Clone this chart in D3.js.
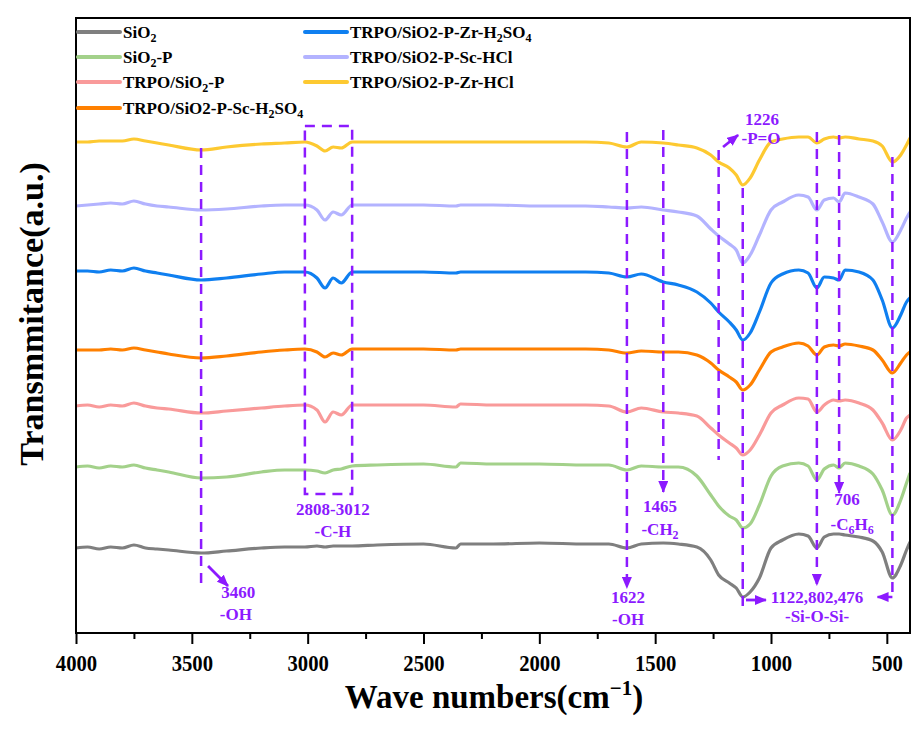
<!DOCTYPE html>
<html><head><meta charset="utf-8">
<script src="https://cdn.jsdelivr.net/npm/d3@7"></script>
<style>body{margin:0;background:#fff}svg{display:block}</style>
</head><body>
<svg id="c" width="912" height="731"></svg>
<script>
// ---- DATA (wavenumber in cm-1, transmittance in arbitrary units incl. stacking offset) ----
const wavenumbers = [4000,3950,3900,3850,3800,3750,3700,3650,3600,3460,3350,3200,3100,3012,2960,2925,2890,2855,2808,2700,2500,2360,2340,2200,2000,1800,1700,1622,1560,1465,1400,1320,1260,1226,1180,1150,1122,1090,1050,1000,950,880,840,802,770,730,706,680,620,560,520,476,440,415,400];
const sio2 = [85,86,84,86,85,88,85,84,83,80,82,85,86,86,87,86,87,87,87,88,89,85,89,89,90,89,89,85,89,90,89,86,73,58,50,45,36,41,55,85,93,99,97,85,96,99,99,98,96,92,81,55,68,83,91];
const sio2P = [166,167,165,167,166,168,165,163,161,155,156,161,163,163,162,160,163,164,167,168,169,166,170,169,169,168,168,163,167,166,166,157,138,127,117,113,105,109,128,157,167,170,167,153,164,168,165,170,167,159,143,118,133,150,160];
const trpoSio2P = [227,228,226,228,227,230,227,225,224,220,222,225,227,228,223,211,221,218,228,228,228,226,229,228,228,228,227,221,225,221,220,217,205,198,190,185,178,183,198,220,228,235,234,221,228,233,232,233,230,223,210,193,203,215,218];
const scH2so4 = [283,283,283,284,283,285,283,281,279,275,277,281,283,284,281,276,280,278,284,284,284,283,284,284,284,284,283,280,282,281,281,278,270,263,256,251,243,248,263,281,286,290,287,278,286,288,287,289,287,283,273,260,270,278,281];
const zrH2so4 = [362,362,361,363,362,365,362,360,358,353,355,359,361,361,355,345,355,350,361,361,361,360,361,361,361,361,360,356,359,351,348,341,330,321,311,303,293,300,321,350,359,363,360,345,356,355,353,363,361,353,333,305,318,331,335];
const scHcl = [427,428,429,430,429,432,429,427,426,423,424,427,428,428,423,413,421,418,428,428,428,427,428,428,427,427,426,425,426,423,421,417,404,397,389,383,370,378,398,423,431,438,436,423,433,435,431,440,436,429,411,391,403,415,421];
const zrHcl = [491,491,492,492,492,494,492,490,488,483,486,489,490,491,487,482,486,485,491,491,491,491,491,491,491,491,490,486,491,490,488,485,478,471,465,458,448,455,473,491,494,496,496,490,494,496,495,496,494,492,487,471,478,488,495];

const seriesLabels = ["SiO_2","SiO_2-P","TRPO/SiO_2-P","TRPO/SiO2-P-Sc-H_2SO_4","TRPO/SiO2-P-Zr-H_2SO_4","TRPO/SiO2-P-Sc-HCl","TRPO/SiO2-P-Zr-HCl"];
const seriesValues = [sio2, sio2P, trpoSio2P, scH2so4, zrH2so4, scHcl, zrHcl];
const seriesColors = ["#7f7f7f","#a3d18a","#f99a9a","#ff8000","#0f7ff0","#b3b3ff","#fdc931"];
const xTicks = [4000,3500,3000,2500,2000,1500,1000,500];
const xMinorTicks = [3750,3250,2750,2250,1750,1250,750];

// ---- CHART ----
const svg = d3.select("#c");
const FONT = "'Liberation Serif','Times New Roman',serif";
const VIO = "#8c1aff";
const L=76,R=910,T=18,B=633;
const x = d3.scaleLinear().domain([4000,400]).range([L,R]);
const y = d3.scaleLinear().domain([0,615]).range([B,T]);

const line = d3.line().x(d=>x(d[0])).y(d=>y(d[1])).curve(d3.curveMonotoneX);

svg.append("clipPath").attr("id","pc").append("rect").attr("x",L).attr("y",T).attr("width",R-L).attr("height",B-T);

const gS = svg.append("g").attr("clip-path","url(#pc)");
seriesValues.forEach((vals,i)=>{
  gS.append("path").datum(wavenumbers.map((w,j)=>[w,vals[j]]))
    .attr("d",line).attr("fill","none").attr("stroke",seriesColors[i])
    .attr("stroke-width",3.2).attr("stroke-linejoin","round");
});

// arrow marker
const defs = svg.append("defs");
defs.append("marker").attr("id","ah").attr("viewBox","0 0 12 10").attr("refX",11).attr("refY",5)
  .attr("markerWidth",12).attr("markerHeight",10).attr("markerUnits","userSpaceOnUse").attr("orient","auto")
  .append("path").attr("d","M0,0L12,5L0,10Z").attr("fill",VIO);

const gA = svg.append("g");
function dashV(w,a1,a2,arrow){
  const l = gA.append("line").attr("x1",x(w)).attr("x2",x(w)).attr("y1",y(a1)).attr("y2",y(a2))
    .attr("stroke",VIO).attr("stroke-width",2.5).attr("stroke-dasharray","10,7");
  if(arrow) l.attr("marker-end","url(#ah)");
}
function arrow(w1,a1,w2,a2){
  gA.append("line").attr("x1",x(w1)).attr("y1",y(a1)).attr("x2",x(w2)).attr("y2",y(a2))
    .attr("stroke",VIO).attr("stroke-width",2.8).attr("marker-end","url(#ah)");
}
dashV(3460,485,50,false);
dashV(1622,501,45,true);
dashV(1465,503,141,true);
dashV(1226,483,173,false);
dashV(1122,445,20,false);
dashV(802,501,48,true);
dashV(706,498,140,true);
dashV(476,476,36,false);
// C-H box
gA.append("rect").attr("x",x(3012)).attr("y",y(507)).attr("width",x(2808)-x(3012)).attr("height",y(139)-y(507))
  .attr("fill","none").attr("stroke",VIO).attr("stroke-width",2.5).attr("stroke-dasharray","10,7");
arrow(3430,67,3344,47);
arrow(1207,486,1142,498);
arrow(1108,33,1022,33);
gA.append("line").attr("x1",x(476)).attr("y1",y(36)).attr("x2",x(540)).attr("y2",y(36))
  .attr("stroke",VIO).attr("stroke-width",2.5).attr("marker-end","url(#ah)");

function richText(g, str, xx, yy, size, anchor, fill){
  const t = g.append("text").attr("x",xx).attr("y",yy).attr("font-family",FONT).attr("font-weight","bold")
    .attr("font-size",size).attr("fill",fill).attr("text-anchor",anchor);
  const parts = str.split(/(_\d)/).filter(s=>s.length);
  let pending = 0;
  const sh = Math.round(size*0.25);
  parts.forEach(p=>{
    if(p[0]==="_"){
      t.append("tspan").attr("font-size",Math.round(size*0.68)).attr("dy",sh+pending).text(p.slice(1));
      pending = -sh;
    } else {
      const ts = t.append("tspan").text(p);
      if(pending) ts.attr("dy",pending);
      pending = 0;
    }
  });
  return t;
}
const ann = [
  ["3460",3300,35],["-OH",3310,13],
  ["2808-3012",2891,118],["-C-H",2891,96],
  ["1622",1617,30],["-OH",1617,8],
  ["1465",1479,121],["-CH_2",1479,98],
  ["1226",1039,508],["-P=O",1043,489],
  ["706",672,128],["-C_6H_6",650,103],
  ["1122,802,476",801,30],["-Si-O-Si-",801,11]
];
ann.forEach(a=>richText(gA,a[0],x(a[1]),y(a[2]),17,"middle",VIO));

// frame
svg.append("rect").attr("x",L).attr("y",T).attr("width",R-L).attr("height",B-T)
  .attr("fill","none").attr("stroke","#000").attr("stroke-width",2);

// x axis
const ax = svg.append("g").attr("transform",`translate(0,${B})`)
  .call(d3.axisBottom(x).tickValues(xTicks).tickSize(11).tickFormat(d3.format("d")));
ax.select(".domain").remove();
ax.selectAll(".tick line").attr("stroke","#000").attr("stroke-width",2);
ax.selectAll(".tick text").attr("y",38).attr("dy",0).attr("font-family",FONT).attr("font-weight","bold")
  .attr("font-size",23).attr("fill","#000").attr("transform","scale(0.9,1)");
const axm = svg.append("g").attr("transform",`translate(0,${B})`)
  .call(d3.axisBottom(x).tickValues(xMinorTicks).tickSize(6).tickFormat(""));
axm.select(".domain").remove();
axm.selectAll(".tick line").attr("stroke","#000").attr("stroke-width",2);

// axis titles
const xt = svg.append("text").attr("x",(L+R)/2+1).attr("y",708).attr("text-anchor","middle")
  .attr("font-family",FONT).attr("font-weight","bold").attr("font-size",33).attr("fill","#000");
xt.append("tspan").text("Wave numbers(cm");
xt.append("tspan").attr("font-size",21).attr("dy",-13).text("\u22121");
xt.append("tspan").attr("dy",13).text(")");

svg.append("text").attr("transform","translate(43,314) rotate(-90)").attr("text-anchor","middle")
  .attr("font-family",FONT).attr("font-weight","bold").attr("font-size",34).attr("fill","#000")
  .text("Transmmitance(a.u.)");

// legend
const legPos = [[78,32],[78,57],[78,82],[78,108],[305,32],[305,57],[305,82]];
seriesLabels.forEach((lab,i)=>{
  const [lx,ly] = legPos[i];
  svg.append("line").attr("x1",lx).attr("x2",lx+42).attr("y1",ly).attr("y2",ly)
    .attr("stroke",seriesColors[i]).attr("stroke-width",4).attr("stroke-linecap","round");
  richText(svg,lab,lx+45,ly+6,17,"start","#000");
});
</script>
</body></html>
